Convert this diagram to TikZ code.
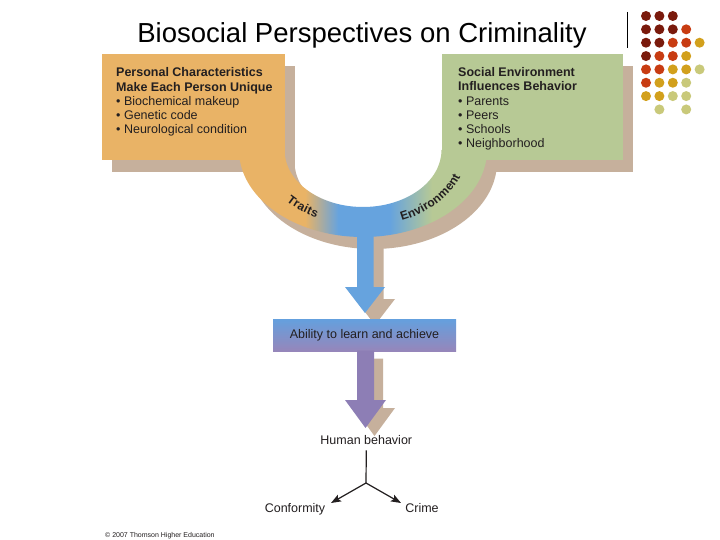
\documentclass[tikz,border=0pt]{standalone}
\usepackage{fontspec}
\setmainfont{Liberation Sans}
\usetikzlibrary{arrows.meta}
\definecolor{uorange}{HTML}{E9B366}
\definecolor{ugreen}{HTML}{B7C995}
\definecolor{ublue}{HTML}{66A3DE}
\definecolor{shadowc}{HTML}{C6B09C}
\definecolor{ablue}{HTML}{64A0DE}
\definecolor{apurple}{HTML}{9686BA}
\definecolor{upurple}{HTML}{8D7EB5}
\definecolor{textc}{HTML}{231F20}
\definecolor{dotD}{HTML}{7A1A0C}
\definecolor{dotO}{HTML}{C83C12}
\definecolor{dotG}{HTML}{D2A01C}
\definecolor{dotP}{HTML}{C9C97A}
\pgfdeclarehorizontalshading{ushade}{100bp}{color(0bp)=(uorange); color(38.3bp)=(uorange); color(45bp)=(ublue); color(55.4bp)=(ublue); color(63.9bp)=(ugreen); color(100bp)=(ugreen)}
\pgfdeclarelayer{bg}
\pgfsetlayers{bg,main}
\tikzset{
  txt/.style={inner sep=0pt, text=textc, font=\fontsize{12.5}{15}\selectfont},
  ctext/.style={inner sep=0pt, anchor=base, text=textc, font=\fontsize{12}{14}\selectfont\bfseries},
  forkline/.style={line width=1.2pt, draw=textc},
  forkarrow/.style={forkline, -{Stealth[length=10pt,width=7.5pt,inset=2pt]}},
  abox/.style={inner sep=0pt, minimum width=183pt, minimum height=32pt, top color=ablue, bottom color=apurple, text=textc, font=\fontsize{12.5}{15}\selectfont}
}
\begin{document}
\begin{tikzpicture}[x=1pt,y=-1pt]
\useasboundingbox (0,0) rectangle (720,540);

% title
\node[anchor=base, inner sep=0pt, font=\fontsize{27.5}{32}\selectfont] (title) at (362,43) {Biosocial Perspectives on Criminality};
\draw[line width=0.9pt] (627,12) -- (627,48);

% dots
\foreach \c/\r/\col in {0/0/dotD,1/0/dotD,2/0/dotD,
  0/1/dotD,1/1/dotD,2/1/dotD,3/1/dotO,
  0/2/dotD,1/2/dotD,2/2/dotO,3/2/dotO,4/2/dotG,
  0/3/dotD,1/3/dotO,2/3/dotO,3/3/dotG,
  0/4/dotO,1/4/dotO,2/4/dotG,3/4/dotG,4/4/dotP,
  0/5/dotO,1/5/dotG,2/5/dotG,3/5/dotP,
  0/6/dotG,1/6/dotG,2/6/dotP,3/6/dotP,
  1/7/dotP,3/7/dotP}
  \fill[\col] ({646+13.4*\c},{16+13.35*\r}) circle[radius=5pt];

% U shape
\fill[uorange] (101.5,54) rectangle (284.5,160);
\fill[ugreen] (441.5,54) rectangle (622.5,160);
\shade[shading=ushade] (239,150) .. controls (239,198) and (294.5,237) .. (363,237)
  .. controls (431.5,237) and (487,198) .. (487,150) -- (441.5,150)
  .. controls (441.5,181.5) and (406.4,207) .. (363,207)
  .. controls (319.6,207) and (284.5,181.5) .. (284.5,150) -- cycle;
\fill[ublue] (357,225) -- (373.5,225) -- (373.5,287) -- (385,287) -- (365,313) -- (345,287) -- (357,287) -- cycle;

% curved labels
\foreach \ch/\t [count=\i] in {T/135.2, r/131.2, a/127.6, i/124.4, t/122.0, s/118.6}
  \node[ctext, rotate={atan2(76*cos(\t),104*sin(\t))}] (tr\i) at ({363+104*cos(\t)},{150+76*sin(\t)}) {\ch};
\foreach \ch/\t [count=\i] in {E/65.8, n/61.3, v/57.1, i/54.1, r/51.5, o/47.8, n/43.0, m/37.0, e/31.0, n/26.1, t/21.9}
  \node[ctext, rotate={atan2(76*cos(\t),104*sin(\t))}] (en\i) at ({363+104*cos(\t)},{150+76*sin(\t)}) {\ch};

% box texts
\node[txt, anchor=base west] (p1) at (116,77) {\bfseries Personal Characteristics};
\node[txt, anchor=base west] (p2) at (116,91.2) {\bfseries Make Each Person Unique};
\node[txt, anchor=base west] (p3) at (116,105.4) {• Biochemical makeup};
\node[txt, anchor=base west] (p4) at (116,119.6) {• Genetic code};
\node[txt, anchor=base west] (p5) at (116,133.8) {• Neurological condition};

\node[txt, anchor=base west] (s1) at (458,76.7) {\bfseries Social Environment};
\node[txt, anchor=base west] (s2) at (458,90.9) {\bfseries Influences Behavior};
\node[txt, anchor=base west] (s3) at (458,105.1) {• Parents};
\node[txt, anchor=base west] (s4) at (458,119.3) {• Peers};
\node[txt, anchor=base west] (s5) at (458,133.5) {• Schools};
\node[txt, anchor=base west] (s6) at (458,147.7) {• Neighborhood};

% ability box and purple arrow
\node[abox] (ability) at (364.5,335) {Ability to learn and achieve};
\fill[upurple] (357,350.5) -- (374,350.5) -- (374,400) -- (386,400) -- (365.5,428) -- (345,400) -- (357,400) -- cycle;

% bottom
\node[txt, anchor=base, inner ysep=6pt] (hb) at (366.3,444) {Human behavior};
\node[txt, anchor=base] (conf) at (295,512) {Conformity};
\node[txt, anchor=base] (crime) at (422,512) {Crime};
\coordinate (fork) at (366,483);
\coordinate (lt) at (331,503);
\coordinate (rt) at (401,503);
\draw[forkline] (hb.south) -- (fork);
\draw[forkarrow] (fork) -- (lt);
\draw[forkarrow] (fork) -- (rt);

\node[anchor=base west, inner sep=0pt, text=textc, font=\fontsize{7}{8}\selectfont] (copy) at (105,537) {© 2007 Thomson Higher Education};

% background and shadows
\begin{pgfonlayer}{bg}
\fill[white] (0,0) rectangle (720,540);
\begin{scope}[shift={(10,12)}]
  \fill[shadowc] (101.5,54) rectangle (284.5,160);
  \fill[shadowc] (441.5,54) rectangle (622.5,160);
  \fill[shadowc] (239,150) .. controls (239,198) and (294.5,237) .. (363,237)
    .. controls (431.5,237) and (487,198) .. (487,150) -- (441.5,150)
    .. controls (441.5,181.5) and (406.4,207) .. (363,207)
    .. controls (319.6,207) and (284.5,181.5) .. (284.5,150) -- cycle;
  \fill[shadowc] (357,225) -- (373.5,225) -- (373.5,287) -- (385,287) -- (365,313) -- (345,287) -- (357,287) -- cycle;
\end{scope}
\begin{scope}[shift={(9,8)}]
  \fill[shadowc] (ability.south west) rectangle (ability.north east);
  \fill[shadowc] (357,350.5) -- (374,350.5) -- (374,400) -- (386,400) -- (365.5,428) -- (345,400) -- (357,400) -- cycle;
\end{scope}
\end{pgfonlayer}
\end{tikzpicture}
\end{document}
